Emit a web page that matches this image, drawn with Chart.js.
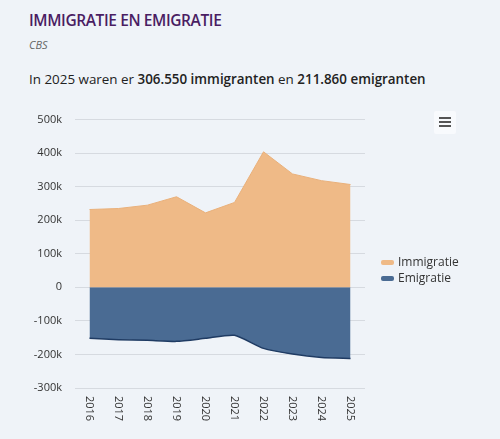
<!DOCTYPE html>
<html>
<head>
<meta charset="utf-8">
<script src="https://cdn.jsdelivr.net/npm/chart.js@4.4.1/dist/chart.umd.min.js"></script>
<style>
  html, body { margin: 0; padding: 0; }
  body { width: 500px; height: 439px; background: #eff3f8; font-family: "Open Sans", "Noto Sans", sans-serif; position: relative; overflow: hidden; }
  #title { position: absolute; left: 29px; top: 9px; font-size: 15.5px; font-weight: 600; color: #4a1d63; letter-spacing: -0.4px; }
  #source { position: absolute; left: 29px; top: 37px; font-size: 11px; font-style: italic; color: #666; }
  #subtitle { position: absolute; left: 29px; top: 70px; font-size: 13.4px; color: #222; }
  #subtitle b { font-weight: 600; }
  #chartBox { position: absolute; left: 0; top: 100px; width: 500px; height: 339px; }
  #menu { position: absolute; left: 434px; top: 111px; width: 22px; height: 23px; background: #f8fafd; border-radius: 2px; }
  #menu span { position: absolute; left: 5px; width: 12px; height: 2px; background: #555; }
  #legend { position: absolute; left: 381px; top: 254px; font-size: 12px; color: #333; }
  .item { height: 16px; line-height: 16px; white-space: nowrap; }
  .swatch { display: inline-block; width: 13px; height: 5px; border-radius: 2px; vertical-align: middle; margin-right: 4px; }
</style>
</head>
<body>
<div id="title">IMMIGRATIE EN EMIGRATIE</div>
<div id="source">CBS</div>
<div id="subtitle">In 2025 waren er <b>306.550 immigranten</b> en <b>211.860 emigranten</b></div>
<div id="chartBox"><canvas id="chart"></canvas></div>
<div id="menu"><span style="top:6px"></span><span style="top:10px"></span><span style="top:14px"></span></div>
<div id="legend"></div>
<script>
const years = ['2016', '2017', '2018', '2019', '2020', '2021', '2022', '2023', '2024', '2025'];
const immigratie = [232000, 235000, 245000, 270000, 222000, 253000, 404000, 338000, 318000, 306550];
const emigratie = [152000, 156000, 158000, 161000, 152000, 143000, 182000, 199000, 209000, 211860];
const yTicks = [-300000, -200000, -100000, 0, 100000, 200000, 300000, 400000, 500000];

const orange = '#efba87';
const blue = '#4a6b93';

function fmtK(v) {
    if (v === 0) return '0';
    return (v / 1000) + 'k';
}

const xLabels = {
    id: 'xLabels',
    afterDraw(chart) {
        const ctx = chart.ctx;
        const x = chart.scales.x;
        ctx.save();
        ctx.font = '11px "Open Sans", "Noto Sans", sans-serif';
        ctx.fillStyle = '#333';
        ctx.textAlign = 'left';
        ctx.textBaseline = 'middle';
        years.forEach((y, i) => {
            ctx.save();
            ctx.translate(x.getPixelForValue(i), chart.chartArea.bottom + 8);
            ctx.rotate(Math.PI / 2);
            ctx.fillText(y, 0, 0);
            ctx.restore();
        });
        ctx.restore();
    }
};

const chart = new Chart(document.getElementById('chart'), {
    type: 'line',
    data: {
        labels: years,
        datasets: [
            {
                label: 'Immigratie',
                data: immigratie,
                fill: 'origin',
                backgroundColor: orange,
                borderColor: '#e9b07a',
                borderWidth: 1,
                pointRadius: 0,
                tension: 0
            },
            {
                label: 'Emigratie',
                data: emigratie.map(v => -v),
                fill: 'origin',
                backgroundColor: blue,
                borderColor: '#1f3b63',
                borderWidth: 1.5,
                pointRadius: 0,
                tension: 0.2
            }
        ]
    },
    options: {
        responsive: true,
        maintainAspectRatio: false,
        animation: false,
        layout: { padding: { top: 11, right: 135, bottom: 43, left: 0 } },
        plugins: { legend: { display: false }, tooltip: { enabled: false } },
        scales: {
            x: {
                offset: true,
                ticks: { display: false },
                grid: { display: false },
                border: { display: false }
            },
            y: {
                min: -300000,
                max: 500000,
                afterFit(scale) { scale.width = 75; },
                afterBuildTicks(scale) { scale.ticks = yTicks.map(v => ({ value: v })); },
                ticks: {
                    padding: 13,
                    color: '#333',
                    font: { size: 11, family: '"Open Sans", "Noto Sans", sans-serif' },
                    callback: v => fmtK(v)
                },
                grid: { color: '#d6dae0', drawTicks: false },
                border: { display: false }
            }
        }
    },
    plugins: [xLabels]
});

const legend = document.getElementById('legend');
chart.data.datasets.forEach(ds => {
    const div = document.createElement('div');
    div.className = 'item';
    div.innerHTML = '<span class="swatch" style="background:' + ds.backgroundColor + '"></span>' + ds.label;
    legend.appendChild(div);
});
</script>
</body>
</html>
